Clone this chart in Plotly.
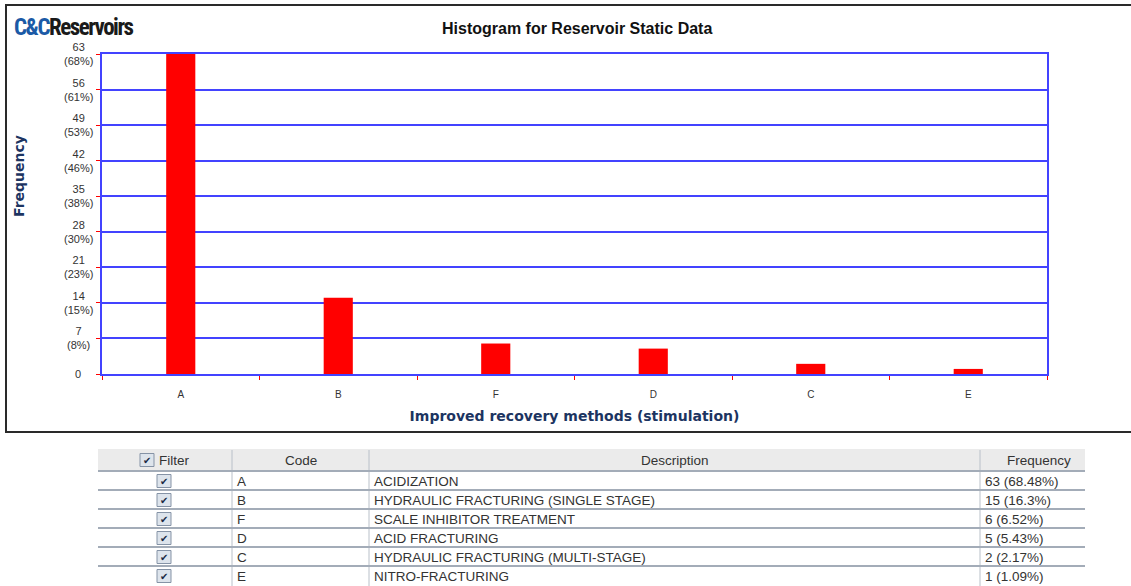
import plotly.graph_objects as go

W, H = 1131, 586

# Improved recovery methods (stimulation) and their counts
codes = ["A", "B", "F", "D", "C", "E"]
descriptions = [
    "ACIDIZATION",
    "HYDRAULIC FRACTURING (SINGLE STAGE)",
    "SCALE INHIBITOR TREATMENT",
    "ACID FRACTURING",
    "HYDRAULIC FRACTURING (MULTI-STAGE)",
    "NITRO-FRACTURING",
]
frequencies = [63, 15, 6, 5, 2, 1]
y_ticks = [0, 7, 14, 21, 28, 35, 42, 49, 56, 63]
table_headers = ["Filter", "Code", "Description", "Frequency"]

total = sum(frequencies)
y_ticktext = [
    "0" if v == 0 else f"{v}<br>({round(v / total * 100)}%)" for v in y_ticks
]
freq_text = [f"{v} ({round(v / total * 100, 2):g}%)" for v in frequencies]


def px(x):
    return x / W


def py(y):
    return 1 - y / H


BLUE = "#4343ff"
NAVY = "#1c3461"
TXT = "#333333"
SANS = "Liberation Sans, Arial, sans-serif"

fig = go.Figure()

fig.add_trace(
    go.Bar(
        x=codes,
        y=frequencies,
        marker=dict(color="#ff0000", line=dict(width=0)),
        hoverinfo="x+y",
    )
)

shapes = [
    # chart frame
    dict(
        type="rect", xref="paper", yref="paper",
        x0=px(6), x1=px(1135), y0=py(432), y1=py(5),
        line=dict(color="#2a2a2a", width=2), fillcolor="rgba(0,0,0,0)", layer="below",
    ),
]

annotations = [
    dict(
        text="Histogram for Reservoir Static Data",
        xref="paper", yref="paper", x=px(577), y=py(29),
        xanchor="center", yanchor="middle", showarrow=False,
        font=dict(family=SANS, size=16, color="#111111", weight="bold"),
    ),
    dict(
        text='<span style="letter-spacing:-1.5px"><span style="color:#1b5aa6">C&amp;C</span>Reservoirs</span>',
        xref="paper", yref="paper", x=px(12), y=py(27),
        xanchor="left", yanchor="middle", showarrow=False,
        font=dict(family="Roboto Condensed, Liberation Sans Narrow, Roboto, sans-serif",
                  size=23, color="#1a1a1a", weight="bold"),
    ),
    dict(
        text="Frequency",
        xref="paper", yref="paper", x=px(19), y=py(176),
        xanchor="center", yanchor="middle", showarrow=False, textangle=-90,
        font=dict(family="DejaVu Sans, Verdana, sans-serif", size=14, color=NAVY, weight="bold"),
    ),
]

# y tick labels: count over percentage, centred
for v, t in zip(y_ticks, y_ticktext):
    annotations.append(dict(
        text=t, xref="paper", yref="y", x=px(78), y=v,
        xanchor="center", yanchor="middle", align="center", showarrow=False,
        font=dict(family=SANS, size=11, color=TXT),
    ))

# ---- summary table below the chart ----
TBL_L, TBL_R = 98, 1085
col_edges = [TBL_L, 232, 369, 980, TBL_R]
HEAD_TOP, HEAD_BOT = 449, 471
ROW_H = 19
n_rows = len(codes)
table_bottom = HEAD_BOT + ROW_H * n_rows


def checkbox(cx, cy):
    shapes.append(dict(
        type="rect", xref="paper", yref="paper",
        x0=px(cx - 7), x1=px(cx + 7), y0=py(cy + 6.5), y1=py(cy - 6.5),
        line=dict(color="#8593a6", width=1), fillcolor="#dde4ec",
    ))
    annotations.append(dict(
        text="✔", xref="paper", yref="paper", x=px(cx), y=py(cy + 0.5),
        xanchor="center", yanchor="middle", showarrow=False,
        font=dict(family="DejaVu Sans, sans-serif", size=10, color="#1b2a44"),
    ))


shapes.append(dict(
    type="rect", xref="paper", yref="paper",
    x0=px(TBL_L), x1=px(TBL_R), y0=py(HEAD_BOT), y1=py(HEAD_TOP),
    line=dict(width=0), fillcolor="#ebebeb", layer="below",
))
for xe in col_edges[1:-1]:
    shapes.append(dict(
        type="line", xref="paper", yref="paper",
        x0=px(xe), x1=px(xe), y0=py(table_bottom + 2), y1=py(HEAD_TOP + 1),
        line=dict(color="#b9c0c9", width=1),
    ))
for i in range(n_rows):
    y_line = HEAD_BOT + ROW_H * i
    shapes.append(dict(
        type="line", xref="paper", yref="paper",
        x0=px(TBL_L), x1=px(TBL_R), y0=py(y_line), y1=py(y_line),
        line=dict(color="#a3acb8", width=2),
    ))

# header labels
hy = (HEAD_TOP + HEAD_BOT) / 2
checkbox(147, hy)
annotations.append(dict(
    text=table_headers[0], xref="paper", yref="paper", x=px(157), y=py(hy),
    xanchor="left", yanchor="middle", showarrow=False,
    font=dict(family=SANS, size=13.5, color=TXT),
))
for j in range(1, 4):
    annotations.append(dict(
        text=table_headers[j], xref="paper", yref="paper",
        x=px((col_edges[j] + col_edges[j + 1]) / 2 + (6 if j == 3 else 0)), y=py(hy),
        xanchor="center", yanchor="middle", showarrow=False,
        font=dict(family=SANS, size=13.5, color=TXT),
    ))

# body rows
for i in range(n_rows):
    cy = HEAD_BOT + ROW_H * i + ROW_H / 2 + 0.5
    checkbox(164, cy)
    for j, txt in ((1, codes[i]), (2, descriptions[i]), (3, freq_text[i])):
        annotations.append(dict(
            text=txt, xref="paper", yref="paper", x=px(col_edges[j] + 3), y=py(cy),
            xanchor="left", yanchor="middle", showarrow=False,
            font=dict(family=SANS, size=13.5, color=TXT),
        ))

fig.update_layout(
    width=W,
    height=H,
    margin=dict(l=0, r=0, t=0, b=0, autoexpand=False),
    paper_bgcolor="white",
    plot_bgcolor="white",
    showlegend=False,
    bargap=0.815,
    xaxis=dict(
        domain=[px(102), px(1047)],
        type="category",
        automargin=False,
        tickson="boundaries",
        ticks="outside",
        ticklen=4,
        tickcolor="#ff0000",
        tickwidth=1,
        showgrid=False,
        showline=True,
        linecolor=BLUE,
        linewidth=2,
        mirror=True,
        tickfont=dict(family=SANS, size=10, color=TXT),
        ticklabelstandoff=10,
        title=dict(
            text="Improved recovery methods (stimulation)",
            font=dict(family="DejaVu Sans, Verdana, sans-serif", size=14, color=NAVY, weight="bold"),
            standoff=12,
        ),
        fixedrange=True,
    ),
    yaxis=dict(
        domain=[py(374), py(54)],
        range=[0, 63],
        automargin=False,
        tickmode="array",
        tickvals=y_ticks,
        showticklabels=False,
        ticks="outside",
        ticklen=4,
        tickcolor="#ff0000",
        tickwidth=1,
        showgrid=True,
        gridcolor=BLUE,
        gridwidth=2,
        showline=True,
        linecolor=BLUE,
        linewidth=2,
        mirror=True,
        zeroline=False,
        fixedrange=True,
    ),
    shapes=shapes,
    annotations=annotations,
)

fig.write_html("out.html")
